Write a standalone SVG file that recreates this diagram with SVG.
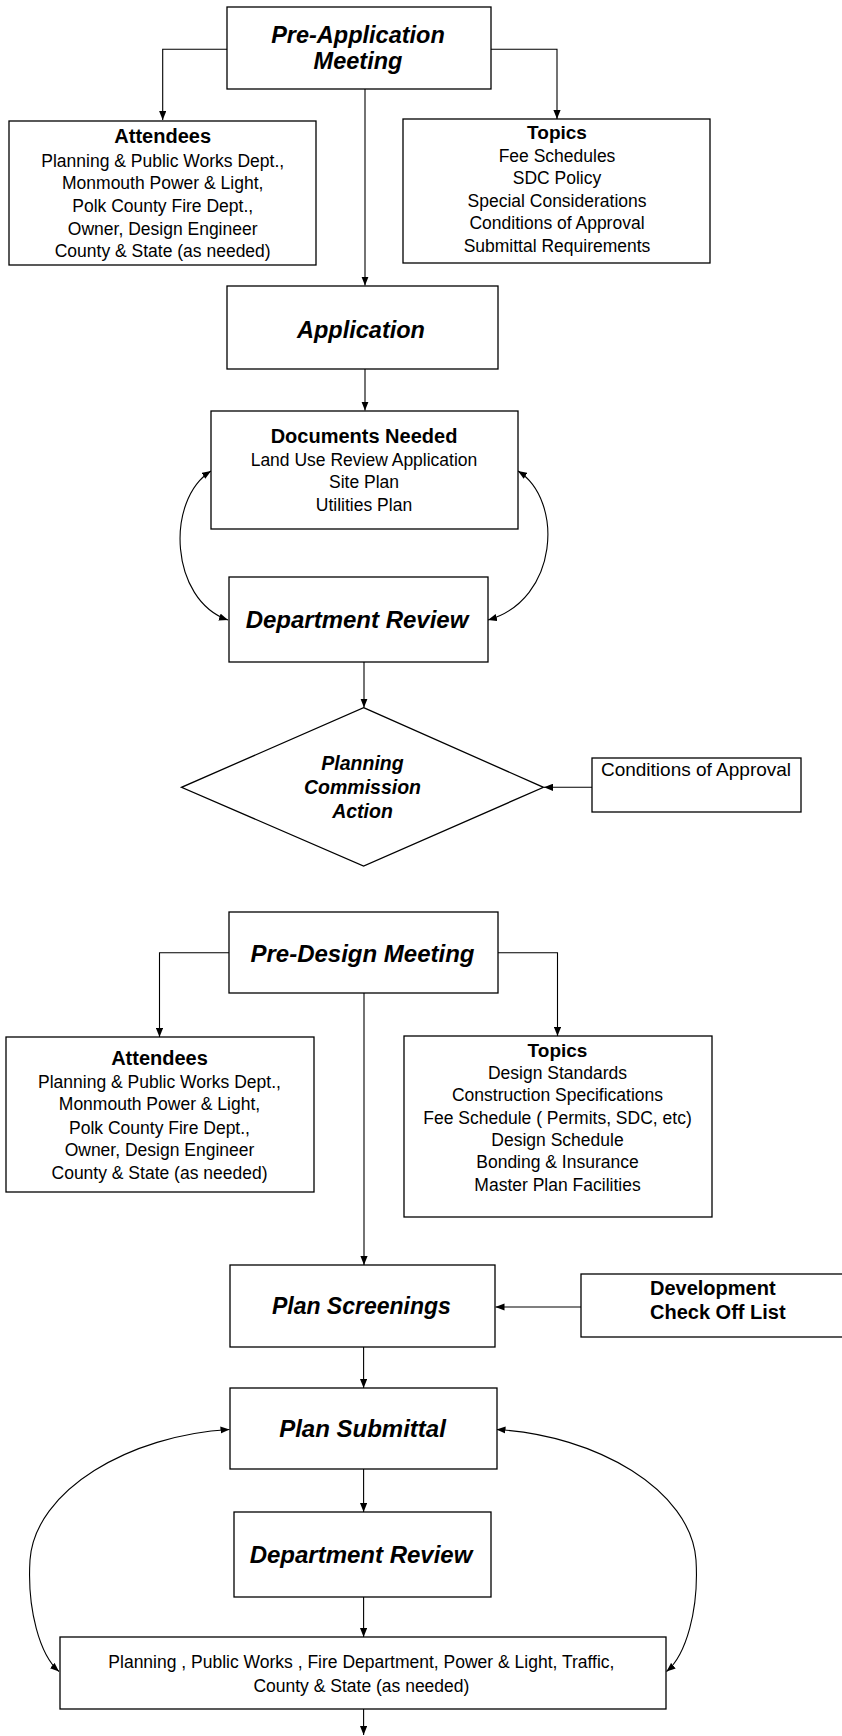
<svg xmlns="http://www.w3.org/2000/svg" width="842" height="1736" viewBox="0 0 842 1736">
<style>
.box{fill:#fff;stroke:#000;stroke-width:1.3}
.ln{fill:none;stroke:#000;stroke-width:1.1}
.t{font-family:"Liberation Sans",Arial,sans-serif;font-size:17.5px;fill:#000;text-anchor:middle}
.h{font-family:"Liberation Sans",Arial,sans-serif;font-size:20px;font-weight:bold;fill:#000;text-anchor:middle}
.bi{font-family:"Liberation Sans",Arial,sans-serif;font-size:23.5px;font-weight:bold;font-style:italic;fill:#000;text-anchor:middle}
</style>
<defs>
<marker id="ah" viewBox="0 0 10 8" markerWidth="9" markerHeight="7.5" refX="10" refY="4" orient="auto-start-reverse" markerUnits="userSpaceOnUse">
<path d="M0,0 L10,4 L0,8 z" fill="#000"/>
</marker>
</defs>
<g id="connectors">
<path class="ln" d="M227,49.3 H162.7 V120" marker-end="url(#ah)"/>
<path class="ln" d="M491,49.3 H557 V119" marker-end="url(#ah)"/>
<path class="ln" d="M365,89 V285.5" marker-end="url(#ah)"/>
<path class="ln" d="M365,369 V410.5" marker-end="url(#ah)"/>
<path class="ln" d="M211,471 C165,500 170,600 228,620" marker-start="url(#ah)" marker-end="url(#ah)"/>
<path class="ln" d="M518,471 C564,500 559,600 488,620" marker-start="url(#ah)" marker-end="url(#ah)"/>
<path class="ln" d="M364,662 V707.5" marker-end="url(#ah)"/>
<path class="ln" d="M592,787.3 H544" marker-end="url(#ah)"/>
<path class="ln" d="M229,952.7 H159.5 V1037" marker-end="url(#ah)"/>
<path class="ln" d="M498,952.7 H557.5 V1036" marker-end="url(#ah)"/>
<path class="ln" d="M364,993 V1265" marker-end="url(#ah)"/>
<path class="ln" d="M581,1307 H495.5" marker-end="url(#ah)"/>
<path class="ln" d="M363.6,1347 V1388" marker-end="url(#ah)"/>
<path class="ln" d="M363.6,1469 V1512" marker-end="url(#ah)"/>
<path class="ln" d="M229.5,1429.5 C130,1435 35,1490 30,1560 C27,1610 40,1655 59,1671.5" marker-start="url(#ah)" marker-end="url(#ah)"/>
<path class="ln" d="M496.5,1429.5 C596,1435 691,1490 696,1560 C699,1610 686,1655 666.5,1671.5" marker-start="url(#ah)" marker-end="url(#ah)"/>
<path class="ln" d="M363.6,1597 V1637" marker-end="url(#ah)"/>
<path class="ln" d="M363.6,1709 V1735" marker-end="url(#ah)"/>
</g>
<g id="pre-application">
<rect class="box" x="227" y="7" width="264" height="82"/>
<text class="bi" x="358" y="42.5">Pre-Application</text>
<text class="bi" x="358" y="68.5">Meeting</text>
</g>
<g id="attendees1">
<rect class="box" x="9" y="121" width="307" height="144"/>
<text class="h" x="162.7" y="142.7">Attendees</text>
<text class="t" x="162.7" y="166.5">Planning &amp; Public Works Dept.,</text>
<text class="t" x="162.7" y="189">Monmouth Power &amp; Light,</text>
<text class="t" x="162.7" y="212.3">Polk County Fire Dept.,</text>
<text class="t" x="162.7" y="235">Owner, Design Engineer</text>
<text class="t" x="162.7" y="257">County &amp; State (as needed)</text>
</g>
<g id="topics1">
<rect class="box" x="403" y="119" width="307" height="144"/>
<text class="h" x="557" y="139.3" style="font-size:19px">Topics</text>
<text class="t" x="557" y="161.7">Fee Schedules</text>
<text class="t" x="557" y="184.2">SDC Policy</text>
<text class="t" x="557" y="206.7">Special Considerations</text>
<text class="t" x="557" y="229">Conditions of Approval</text>
<text class="t" x="557" y="251.7">Submittal Requirements</text>
</g>
<g id="application">
<rect class="box" x="227" y="286" width="271" height="83"/>
<text class="bi" x="361" y="338.3">Application</text>
</g>
<g id="documents">
<rect class="box" x="211" y="411" width="307" height="118"/>
<text class="h" x="364" y="442.7">Documents Needed</text>
<text class="t" x="364" y="466">Land Use Review Application</text>
<text class="t" x="364" y="488.3">Site Plan</text>
<text class="t" x="364" y="510.7">Utilities Plan</text>
</g>
<g id="department-review1">
<rect class="box" x="229" y="577" width="259" height="85"/>
<text class="bi" x="357" y="628.3" style="font-size:24px">Department Review</text>
</g>
<g id="planning-commission">
<polygon class="box" points="363.6,707.7 543.5,787.3 363.6,866 181.5,787.3"/>
<text class="bi" x="362.5" y="770" style="font-size:19.5px">Planning</text>
<text class="bi" x="362.5" y="794" style="font-size:19.5px">Commission</text>
<text class="bi" x="362.5" y="818.3" style="font-size:19.5px">Action</text>
</g>
<g id="conditions">
<rect class="box" x="592" y="758" width="209" height="54"/>
<text class="t" x="696" y="776" style="font-size:19px">Conditions of Approval</text>
</g>
<g id="pre-design">
<rect class="box" x="229" y="912" width="269" height="81"/>
<text class="bi" x="362.5" y="961.7" style="font-size:24px">Pre-Design Meeting</text>
</g>
<g id="attendees2">
<rect class="box" x="6" y="1037" width="308" height="155"/>
<text class="h" x="159.5" y="1065">Attendees</text>
<text class="t" x="159.5" y="1088">Planning &amp; Public Works Dept.,</text>
<text class="t" x="159.5" y="1110.3">Monmouth Power &amp; Light,</text>
<text class="t" x="159.5" y="1133.6">Polk County Fire Dept.,</text>
<text class="t" x="159.5" y="1156.3">Owner, Design Engineer</text>
<text class="t" x="159.5" y="1179">County &amp; State (as needed)</text>
</g>
<g id="topics2">
<rect class="box" x="404" y="1036" width="308" height="181"/>
<text class="h" x="557.5" y="1056.7" style="font-size:19px">Topics</text>
<text class="t" x="557.5" y="1079">Design Standards</text>
<text class="t" x="557.5" y="1101.3">Construction Specifications</text>
<text class="t" x="557.5" y="1123.7">Fee Schedule ( Permits, SDC, etc)</text>
<text class="t" x="557.5" y="1146">Design Schedule</text>
<text class="t" x="557.5" y="1168.3">Bonding &amp; Insurance</text>
<text class="t" x="557.5" y="1190.7">Master Plan Facilities</text>
</g>
<g id="plan-screenings">
<rect class="box" x="230" y="1265" width="265" height="82"/>
<text class="bi" x="361.4" y="1314" style="font-size:23px">Plan Screenings</text>
</g>
<g id="development-checklist">
<rect class="box" x="581" y="1274" width="280" height="63"/>
<text class="h" x="650" y="1295" style="text-anchor:start">Development</text>
<text class="h" x="650" y="1319" style="text-anchor:start">Check Off List</text>
</g>
<g id="plan-submittal">
<rect class="box" x="230" y="1388" width="267" height="81"/>
<text class="bi" x="362.5" y="1436.7" style="font-size:24px">Plan Submittal</text>
</g>
<g id="department-review2">
<rect class="box" x="234" y="1512" width="257" height="85"/>
<text class="bi" x="361" y="1562.7" style="font-size:24px">Department Review</text>
</g>
<g id="reviewers">
<rect class="box" x="60" y="1637" width="606" height="72"/>
<text class="t" x="361.4" y="1668.3">Planning , Public Works , Fire Department, Power &amp; Light, Traffic,</text>
<text class="t" x="361.4" y="1691.7">County &amp; State (as needed)</text>
</g>
</svg>
